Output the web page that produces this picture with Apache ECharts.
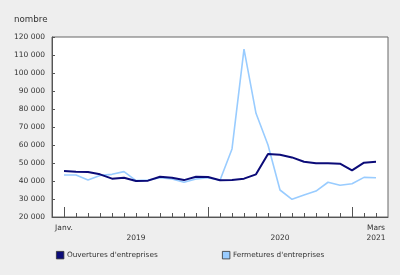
<!DOCTYPE html>
<html>
<head>
<meta charset="utf-8">
<script src="https://cdn.jsdelivr.net/npm/echarts@6/dist/echarts.min.js"></script>
<style>
html,body{margin:0;padding:0;background:#eeeeee;}
#c{width:400px;height:275px;}
</style>
</head>
<body>
<div id="c"></div>
<script>
// Months Jan 2019 .. Mar 2021
var months = ['2019-01','2019-02','2019-03','2019-04','2019-05','2019-06','2019-07','2019-08','2019-09','2019-10','2019-11','2019-12',
              '2020-01','2020-02','2020-03','2020-04','2020-05','2020-06','2020-07','2020-08','2020-09','2020-10','2020-11','2020-12',
              '2021-01','2021-02','2021-03'];
var ouvertures = [45500,45200,45000,43700,41300,41800,40000,40200,42400,41800,40500,42400,
                  42200,40400,40500,41300,43700,55000,54600,53100,50700,49800,49800,49600,
                  45900,50200,50700];
var fermetures = [43300,43300,40500,43100,43700,45200,40200,40500,41800,41100,39300,41100,
                  41800,40400,57800,113300,77600,60000,35000,29800,32200,34400,39300,37600,
                  38500,42000,41800];
// tick labels by month index
var tickLabels = {0:'Janv.', 6:'\n2019', 18:'\n2020', 26:'Mars\n2021'};
var majorTicks = [0, 12, 24];
var yTicks = {min:20000, max:120000, interval:10000};
var seriesNames = ["Ouvertures d'entreprises", "Fermetures d'entreprises"];

var cats = [''].concat(months).concat(['']);
function pad(arr){ return [null].concat(arr).concat([null]); }
function fmt(v){ return String(v).replace(/\B(?=(\d{3})+(?!\d))/g, ' '); }

var FONT = 'DejaVu Sans';
var navy = '#0b0b78';
var light = '#99ccff';
var chart = echarts.init(document.getElementById('c'), null, {renderer:'canvas'});
chart.setOption({
  backgroundColor: '#eeeeee',
  animation: false,
  title: {text:'nombre', left: 14, top: 15, padding: 0, textStyle:{fontFamily:FONT, fontSize:8.7, fontWeight:'normal', color:'#333'}},
  grid: {left: 52, right: 12, top: 37, bottom: 58, show: true, backgroundColor:'#ffffff', borderColor:'#666', borderWidth:1},
  legend: [
    {left: 51, top: 246, itemWidth: 7.5, itemHeight: 7.5, itemGap: 0,
     icon: 'rect', data:[seriesNames[0]],
     textStyle:{fontFamily:FONT, fontSize:7.3, color:'#333', padding:[0,0,0,-2]},
     itemStyle:{borderColor:'#333', borderWidth:0.8}},
    {left: 217, top: 246, itemWidth: 7.5, itemHeight: 7.5, itemGap: 0,
     icon: 'rect', data:[seriesNames[1]],
     textStyle:{fontFamily:FONT, fontSize:7.3, color:'#333', padding:[0,0,0,-2]},
     itemStyle:{borderColor:'#333', borderWidth:0.8}}
  ],
  xAxis: [
    {type:'category', data: cats, boundaryGap:false,
     axisLine:{show:true, lineStyle:{color:'#555', width:1}},
     axisTick:{show:true, inside:true, length:4, interval:function(i){return i>0 && i<cats.length-1;}, lineStyle:{color:'#555'}},
     axisLabel:{interval:0, margin:6, fontFamily:FONT, fontSize:7.5, color:'#333', lineHeight:10,
       formatter:function(v, i){ var k=i-1; return tickLabels[k]!==undefined ? tickLabels[k] : ''; }},
     splitLine:{show:false}},
    {type:'category', data: cats, boundaryGap:false, position:'bottom', gridIndex:0,
     axisLine:{show:false},
     axisTick:{show:true, inside:true, length:10, interval:function(i){return majorTicks.indexOf(i-1)>=0;}, lineStyle:{color:'#555'}},
     axisLabel:{show:false}, splitLine:{show:false}}
  ],
  yAxis: {type:'value', min:yTicks.min, max:yTicks.max, interval:yTicks.interval,
    axisLine:{show:true, lineStyle:{color:'#555', width:1}},
    axisTick:{show:true, inside:true, length:3, lineStyle:{color:'#555'}},
    axisLabel:{margin:7, fontFamily:FONT, fontSize:7.5, color:'#333', formatter:fmt},
    splitLine:{show:false}},
  series: [
    {name: seriesNames[0], type:'line', data: pad(ouvertures), showSymbol:false, symbol:'none',
     lineStyle:{color:navy, width:2}, itemStyle:{color:navy}, z:3},
    {name: seriesNames[1], type:'line', data: pad(fermetures), showSymbol:false, symbol:'none',
     lineStyle:{color:light, width:1.6}, itemStyle:{color:light}, z:2}
  ]
});
</script>
</body>
</html>
